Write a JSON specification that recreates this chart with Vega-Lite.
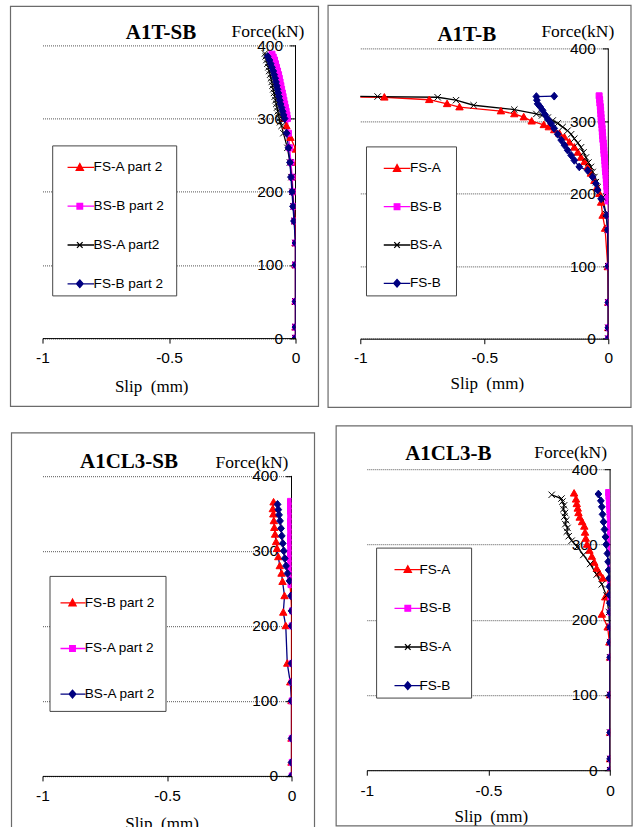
{
"$schema": "https://vega.github.io/schema/vega-lite/v6.json",
"padding": {"left": 9.5, "top": 4.4, "right": 0, "bottom": 0},
"background": "white",
"config": {
 "view": {"stroke": null},
 "axis": {"labelFont": "Liberation Sans", "labelFontSize": 15.5, "labelColor": "#000", "domainColor": "#000", "tickColor": "#000", "gridColor": "#555", "gridDash": [1, 1], "gridWidth": 1, "titleFont": "Liberation Serif", "titleFontWeight": "normal", "titleFontSize": 17.5, "titleColor": "#000", "labelOverlap": false, "labelFlush": false},
 "legend": {"fillColor": "white", "strokeColor": "#444", "symbolOpacity": 1, "symbolStrokeWidth": 1.3, "symbolSize": 1024, "labelFont": "Liberation Sans", "labelFontSize": 13.6, "labelColor": "#000", "labelLimit": 400, "titleColor": "white", "titleFontSize": 10, "titleOrient": "right"}
},
"datasets": {
 "p1": [
  {"s":"FS-A part 2","x":0,"f":0},{"s":"FS-A part 2","x":0,"f":15},{"s":"FS-A part 2","x":0,"f":50},{"s":"FS-A part 2","x":0,"f":100},{"s":"FS-A part 2","x":0,"f":130},{"s":"FS-A part 2","x":0,"f":160},{"s":"FS-A part 2","x":0.004,"f":180},{"s":"FS-A part 2","x":0.005,"f":200},{"s":"FS-A part 2","x":0.006,"f":220},{"s":"FS-A part 2","x":0.005,"f":240},{"s":"FS-A part 2","x":0.001,"f":258},{"s":"FS-A part 2","x":-0.02,"f":274},{"s":"FS-A part 2","x":-0.036,"f":290},{"s":"FS-A part 2","x":-0.045,"f":300},
  {"s":"BS-B part 2","x":0,"f":0},{"s":"BS-B part 2","x":0,"f":15},{"s":"BS-B part 2","x":0,"f":50},{"s":"BS-B part 2","x":0,"f":100},{"s":"BS-B part 2","x":0,"f":130},{"s":"BS-B part 2","x":-0.003,"f":160},{"s":"BS-B part 2","x":-0.006,"f":180},{"s":"BS-B part 2","x":-0.01,"f":200},{"s":"BS-B part 2","x":-0.013,"f":220},{"s":"BS-B part 2","x":-0.018,"f":240},{"s":"BS-B part 2","x":-0.023,"f":260},{"s":"BS-B part 2","x":-0.028,"f":280},{"s":"BS-B part 2","x":-0.032,"f":300},{"s":"BS-B part 2","x":-0.034,"f":305},{"s":"BS-B part 2","x":-0.037,"f":310},{"s":"BS-B part 2","x":-0.04,"f":315},{"s":"BS-B part 2","x":-0.043,"f":320},{"s":"BS-B part 2","x":-0.046,"f":325},{"s":"BS-B part 2","x":-0.049,"f":330},{"s":"BS-B part 2","x":-0.052,"f":335},{"s":"BS-B part 2","x":-0.055,"f":340},{"s":"BS-B part 2","x":-0.058,"f":345},{"s":"BS-B part 2","x":-0.061,"f":350},{"s":"BS-B part 2","x":-0.064,"f":355},{"s":"BS-B part 2","x":-0.067,"f":360},{"s":"BS-B part 2","x":-0.071,"f":365},{"s":"BS-B part 2","x":-0.075,"f":370},{"s":"BS-B part 2","x":-0.079,"f":375},{"s":"BS-B part 2","x":-0.083,"f":380},{"s":"BS-B part 2","x":-0.088,"f":384},{"s":"BS-B part 2","x":-0.093,"f":388},
  {"s":"BS-A part2","x":0,"f":0},{"s":"BS-A part2","x":0,"f":15},{"s":"BS-A part2","x":0,"f":50},{"s":"BS-A part2","x":0,"f":100},{"s":"BS-A part2","x":0,"f":130},{"s":"BS-A part2","x":-0.004,"f":160},{"s":"BS-A part2","x":-0.008,"f":180},{"s":"BS-A part2","x":-0.012,"f":200},{"s":"BS-A part2","x":-0.016,"f":220},{"s":"BS-A part2","x":-0.022,"f":240},{"s":"BS-A part2","x":-0.032,"f":260},{"s":"BS-A part2","x":-0.048,"f":280},{"s":"BS-A part2","x":-0.055,"f":290},{"s":"BS-A part2","x":-0.061,"f":295},{"s":"BS-A part2","x":-0.064,"f":300},{"s":"BS-A part2","x":-0.067,"f":305},{"s":"BS-A part2","x":-0.07,"f":310},{"s":"BS-A part2","x":-0.073,"f":315},{"s":"BS-A part2","x":-0.076,"f":320},{"s":"BS-A part2","x":-0.079,"f":325},{"s":"BS-A part2","x":-0.082,"f":330},{"s":"BS-A part2","x":-0.085,"f":335},{"s":"BS-A part2","x":-0.088,"f":340},{"s":"BS-A part2","x":-0.091,"f":345},{"s":"BS-A part2","x":-0.094,"f":350},{"s":"BS-A part2","x":-0.097,"f":355},{"s":"BS-A part2","x":-0.1,"f":360},{"s":"BS-A part2","x":-0.104,"f":365},{"s":"BS-A part2","x":-0.107,"f":370},{"s":"BS-A part2","x":-0.111,"f":375},{"s":"BS-A part2","x":-0.115,"f":380},{"s":"BS-A part2","x":-0.118,"f":385},{"s":"BS-A part2","x":-0.121,"f":389},
  {"s":"FS-B part 2","x":0,"f":0},{"s":"FS-B part 2","x":0,"f":15},{"s":"FS-B part 2","x":0,"f":50},{"s":"FS-B part 2","x":0,"f":100},{"s":"FS-B part 2","x":0,"f":130},{"s":"FS-B part 2","x":-0.006,"f":160},{"s":"FS-B part 2","x":-0.01,"f":180},{"s":"FS-B part 2","x":-0.014,"f":200},{"s":"FS-B part 2","x":-0.018,"f":220},{"s":"FS-B part 2","x":-0.022,"f":240},{"s":"FS-B part 2","x":-0.028,"f":260},{"s":"FS-B part 2","x":-0.035,"f":280},{"s":"FS-B part 2","x":-0.043,"f":300},{"s":"FS-B part 2","x":-0.047,"f":305},{"s":"FS-B part 2","x":-0.051,"f":310},{"s":"FS-B part 2","x":-0.055,"f":315},{"s":"FS-B part 2","x":-0.059,"f":320},{"s":"FS-B part 2","x":-0.062,"f":325},{"s":"FS-B part 2","x":-0.065,"f":330},{"s":"FS-B part 2","x":-0.068,"f":335},{"s":"FS-B part 2","x":-0.071,"f":340},{"s":"FS-B part 2","x":-0.074,"f":345},{"s":"FS-B part 2","x":-0.077,"f":350},{"s":"FS-B part 2","x":-0.08,"f":355},{"s":"FS-B part 2","x":-0.084,"f":360},{"s":"FS-B part 2","x":-0.088,"f":365},{"s":"FS-B part 2","x":-0.093,"f":370},{"s":"FS-B part 2","x":-0.098,"f":375},{"s":"FS-B part 2","x":-0.103,"f":380},{"s":"FS-B part 2","x":-0.11,"f":385}
 ],
 "p2": [
  {"s":"FS-A","x":0,"f":0},{"s":"FS-A","x":0,"f":15},{"s":"FS-A","x":0,"f":50},{"s":"FS-A","x":-0.002,"f":99},{"s":"FS-A","x":-0.013,"f":152},{"s":"FS-A","x":-0.023,"f":170},{"s":"FS-A","x":-0.029,"f":188},{"s":"FS-A","x":-0.036,"f":200},{"s":"FS-A","x":-0.045,"f":209},{"s":"FS-A","x":-0.056,"f":218},{"s":"FS-A","x":-0.07,"f":228},{"s":"FS-A","x":-0.083,"f":237},{"s":"FS-A","x":-0.096,"f":244},{"s":"FS-A","x":-0.11,"f":250},{"s":"FS-A","x":-0.123,"f":257},{"s":"FS-A","x":-0.137,"f":264},{"s":"FS-A","x":-0.157,"f":271},{"s":"FS-A","x":-0.177,"f":278},{"s":"FS-A","x":-0.197,"f":283},{"s":"FS-A","x":-0.218,"f":288},{"s":"FS-A","x":-0.24,"f":292},{"s":"FS-A","x":-0.26,"f":295},{"s":"FS-A","x":-0.309,"f":300},{"s":"FS-A","x":-0.341,"f":305.7},{"s":"FS-A","x":-0.379,"f":310},{"s":"FS-A","x":-0.433,"f":314},{"s":"FS-A","x":-0.6,"f":319.5},{"s":"FS-A","x":-0.65,"f":324},{"s":"FS-A","x":-0.722,"f":329.6},{"s":"FS-A","x":-0.903,"f":333},{"s":"FS-A","x":-1.3,"f":334},
  {"s":"BS-B","x":0.001,"f":0},{"s":"BS-B","x":0.001,"f":15},{"s":"BS-B","x":0.001,"f":50},{"s":"BS-B","x":0.001,"f":100},{"s":"BS-B","x":0.001,"f":150},{"s":"BS-B","x":0.001,"f":170},{"s":"BS-B","x":-0.001,"f":190},{"s":"BS-B","x":-0.002,"f":195},{"s":"BS-B","x":-0.003,"f":200},{"s":"BS-B","x":-0.005,"f":205},{"s":"BS-B","x":-0.006,"f":210},{"s":"BS-B","x":-0.007,"f":215},{"s":"BS-B","x":-0.008,"f":220},{"s":"BS-B","x":-0.009,"f":225},{"s":"BS-B","x":-0.011,"f":230},{"s":"BS-B","x":-0.012,"f":235},{"s":"BS-B","x":-0.013,"f":240},{"s":"BS-B","x":-0.014,"f":245},{"s":"BS-B","x":-0.015,"f":250},{"s":"BS-B","x":-0.017,"f":255},{"s":"BS-B","x":-0.018,"f":260},{"s":"BS-B","x":-0.019,"f":265},{"s":"BS-B","x":-0.02,"f":270},{"s":"BS-B","x":-0.022,"f":275},{"s":"BS-B","x":-0.023,"f":280},{"s":"BS-B","x":-0.024,"f":285},{"s":"BS-B","x":-0.025,"f":290},{"s":"BS-B","x":-0.026,"f":295},{"s":"BS-B","x":-0.028,"f":300},{"s":"BS-B","x":-0.029,"f":305},{"s":"BS-B","x":-0.03,"f":310},{"s":"BS-B","x":-0.031,"f":315},{"s":"BS-B","x":-0.032,"f":320},{"s":"BS-B","x":-0.034,"f":325},{"s":"BS-B","x":-0.035,"f":330},{"s":"BS-B","x":-0.037,"f":335},
  {"s":"BS-A","x":0,"f":0},{"s":"BS-A","x":0,"f":15},{"s":"BS-A","x":0,"f":50},{"s":"BS-A","x":0,"f":100},{"s":"BS-A","x":-0.003,"f":150},{"s":"BS-A","x":-0.009,"f":172},{"s":"BS-A","x":-0.023,"f":195},{"s":"BS-A","x":-0.043,"f":209},{"s":"BS-A","x":-0.05,"f":216},{"s":"BS-A","x":-0.056,"f":223},{"s":"BS-A","x":-0.063,"f":230},{"s":"BS-A","x":-0.07,"f":237},{"s":"BS-A","x":-0.08,"f":243},{"s":"BS-A","x":-0.09,"f":250},{"s":"BS-A","x":-0.1,"f":257},{"s":"BS-A","x":-0.11,"f":264},{"s":"BS-A","x":-0.123,"f":270},{"s":"BS-A","x":-0.137,"f":276},{"s":"BS-A","x":-0.15,"f":282},{"s":"BS-A","x":-0.164,"f":287},{"s":"BS-A","x":-0.184,"f":292},{"s":"BS-A","x":-0.204,"f":297},{"s":"BS-A","x":-0.224,"f":301},{"s":"BS-A","x":-0.244,"f":305},{"s":"BS-A","x":-0.267,"f":308},{"s":"BS-A","x":-0.29,"f":310},{"s":"BS-A","x":-0.379,"f":316},{"s":"BS-A","x":-0.543,"f":322},{"s":"BS-A","x":-0.614,"f":329},{"s":"BS-A","x":-0.688,"f":333},{"s":"BS-A","x":-0.93,"f":334},{"s":"BS-A","x":-1.3,"f":335},
  {"s":"FS-B","x":0,"f":0},{"s":"FS-B","x":0,"f":15},{"s":"FS-B","x":0,"f":50},{"s":"FS-B","x":0,"f":100},{"s":"FS-B","x":-0.002,"f":150},{"s":"FS-B","x":-0.007,"f":170},{"s":"FS-B","x":-0.029,"f":193},{"s":"FS-B","x":-0.043,"f":205},{"s":"FS-B","x":-0.05,"f":214},{"s":"FS-B","x":-0.063,"f":223},{"s":"FS-B","x":-0.083,"f":232},{"s":"FS-B","x":-0.117,"f":237},{"s":"FS-B","x":-0.137,"f":246},{"s":"FS-B","x":-0.15,"f":253},{"s":"FS-B","x":-0.164,"f":260},{"s":"FS-B","x":-0.177,"f":267},{"s":"FS-B","x":-0.19,"f":274},{"s":"FS-B","x":-0.204,"f":282},{"s":"FS-B","x":-0.218,"f":290},{"s":"FS-B","x":-0.231,"f":297},{"s":"FS-B","x":-0.244,"f":303},{"s":"FS-B","x":-0.255,"f":309},{"s":"FS-B","x":-0.265,"f":315},{"s":"FS-B","x":-0.275,"f":320},{"s":"FS-B","x":-0.285,"f":324},{"s":"FS-B","x":-0.288,"f":329},{"s":"FS-B","x":-0.29,"f":334},{"s":"FS-B","x":-0.218,"f":334.5}
 ],
 "p3": [
  {"s":"FS-B part 2","x":0,"f":0},{"s":"FS-B part 2","x":0,"f":18},{"s":"FS-B part 2","x":0,"f":50},{"s":"FS-B part 2","x":0,"f":100},{"s":"FS-B part 2","x":-0.005,"f":125},{"s":"FS-B part 2","x":-0.017,"f":150},{"s":"FS-B part 2","x":-0.023,"f":200},{"s":"FS-B part 2","x":-0.033,"f":218},{"s":"FS-B part 2","x":-0.028,"f":240},{"s":"FS-B part 2","x":-0.036,"f":259},{"s":"FS-B part 2","x":-0.04,"f":270},{"s":"FS-B part 2","x":-0.047,"f":280},{"s":"FS-B part 2","x":-0.053,"f":292},{"s":"FS-B part 2","x":-0.058,"f":303},{"s":"FS-B part 2","x":-0.062,"f":312},{"s":"FS-B part 2","x":-0.066,"f":322},{"s":"FS-B part 2","x":-0.069,"f":331},{"s":"FS-B part 2","x":-0.071,"f":340},{"s":"FS-B part 2","x":-0.073,"f":349},{"s":"FS-B part 2","x":-0.075,"f":356},{"s":"FS-B part 2","x":-0.072,"f":365},
  {"s":"FS-A part 2","x":0.003,"f":0},{"s":"FS-A part 2","x":0.003,"f":18},{"s":"FS-A part 2","x":0.003,"f":50},{"s":"FS-A part 2","x":0.003,"f":100},{"s":"FS-A part 2","x":0.003,"f":125},{"s":"FS-A part 2","x":0.003,"f":150},{"s":"FS-A part 2","x":0.003,"f":200},{"s":"FS-A part 2","x":0.004,"f":220},{"s":"FS-A part 2","x":0.004,"f":240},{"s":"FS-A part 2","x":-0.002,"f":255},{"s":"FS-A part 2","x":-0.003,"f":262},{"s":"FS-A part 2","x":-0.003,"f":269},{"s":"FS-A part 2","x":-0.004,"f":276},{"s":"FS-A part 2","x":-0.003,"f":283},{"s":"FS-A part 2","x":-0.004,"f":290},{"s":"FS-A part 2","x":-0.004,"f":297},{"s":"FS-A part 2","x":-0.003,"f":304},{"s":"FS-A part 2","x":-0.004,"f":311},{"s":"FS-A part 2","x":-0.004,"f":318},{"s":"FS-A part 2","x":-0.003,"f":325},{"s":"FS-A part 2","x":-0.004,"f":332},{"s":"FS-A part 2","x":-0.004,"f":339},{"s":"FS-A part 2","x":-0.003,"f":346},{"s":"FS-A part 2","x":-0.004,"f":353},{"s":"FS-A part 2","x":-0.004,"f":360},{"s":"FS-A part 2","x":-0.004,"f":366},
  {"s":"BS-A part 2","x":0,"f":0},{"s":"BS-A part 2","x":0,"f":18},{"s":"BS-A part 2","x":0,"f":50},{"s":"BS-A part 2","x":0,"f":100},{"s":"BS-A part 2","x":0,"f":125},{"s":"BS-A part 2","x":0,"f":150},{"s":"BS-A part 2","x":0,"f":200},{"s":"BS-A part 2","x":0,"f":220},{"s":"BS-A part 2","x":-0.002,"f":240},{"s":"BS-A part 2","x":-0.008,"f":260},{"s":"BS-A part 2","x":-0.016,"f":270},{"s":"BS-A part 2","x":-0.022,"f":280},{"s":"BS-A part 2","x":-0.027,"f":290},{"s":"BS-A part 2","x":-0.031,"f":300},{"s":"BS-A part 2","x":-0.035,"f":310},{"s":"BS-A part 2","x":-0.039,"f":320},{"s":"BS-A part 2","x":-0.042,"f":330},{"s":"BS-A part 2","x":-0.046,"f":340},{"s":"BS-A part 2","x":-0.05,"f":348},{"s":"BS-A part 2","x":-0.053,"f":355},{"s":"BS-A part 2","x":-0.056,"f":362}
 ],
 "p4": [
  {"s":"FS-A","x":0,"f":0},{"s":"FS-A","x":0,"f":15},{"s":"FS-A","x":0,"f":50},{"s":"FS-A","x":0,"f":100},{"s":"FS-A","x":0,"f":150},{"s":"FS-A","x":-0.003,"f":170},{"s":"FS-A","x":-0.01,"f":190},{"s":"FS-A","x":-0.034,"f":207},{"s":"FS-A","x":-0.02,"f":230},{"s":"FS-A","x":0.006,"f":249},{"s":"FS-A","x":-0.03,"f":255},{"s":"FS-A","x":-0.045,"f":262},{"s":"FS-A","x":-0.055,"f":268},{"s":"FS-A","x":-0.065,"f":276},{"s":"FS-A","x":-0.075,"f":284},{"s":"FS-A","x":-0.085,"f":292},{"s":"FS-A","x":-0.095,"f":300},{"s":"FS-A","x":-0.1,"f":308},{"s":"FS-A","x":-0.103,"f":316},{"s":"FS-A","x":-0.106,"f":324},{"s":"FS-A","x":-0.115,"f":330},{"s":"FS-A","x":-0.125,"f":336},{"s":"FS-A","x":-0.13,"f":342},{"s":"FS-A","x":-0.133,"f":348},{"s":"FS-A","x":-0.137,"f":354},{"s":"FS-A","x":-0.14,"f":360},{"s":"FS-A","x":-0.148,"f":368},
  {"s":"BS-B","x":0.003,"f":0},{"s":"BS-B","x":0.003,"f":15},{"s":"BS-B","x":0.003,"f":50},{"s":"BS-B","x":0.003,"f":100},{"s":"BS-B","x":0.003,"f":150},{"s":"BS-B","x":0.003,"f":170},{"s":"BS-B","x":0.003,"f":190},{"s":"BS-B","x":0.003,"f":210},{"s":"BS-B","x":0.003,"f":230},{"s":"BS-B","x":0.003,"f":250},{"s":"BS-B","x":0.003,"f":270},{"s":"BS-B","x":0.003,"f":290},{"s":"BS-B","x":0.004,"f":298},{"s":"BS-B","x":0.003,"f":304},{"s":"BS-B","x":0.003,"f":310},{"s":"BS-B","x":0.002,"f":316},{"s":"BS-B","x":0.002,"f":322},{"s":"BS-B","x":0.001,"f":328},{"s":"BS-B","x":0.001,"f":334},{"s":"BS-B","x":0,"f":340},{"s":"BS-B","x":-0.001,"f":346},{"s":"BS-B","x":-0.002,"f":352},{"s":"BS-B","x":-0.003,"f":358},{"s":"BS-B","x":-0.005,"f":364},{"s":"BS-B","x":-0.006,"f":369},
  {"s":"BS-A","x":0,"f":0},{"s":"BS-A","x":0,"f":15},{"s":"BS-A","x":0,"f":50},{"s":"BS-A","x":0,"f":100},{"s":"BS-A","x":0,"f":150},{"s":"BS-A","x":0,"f":170},{"s":"BS-A","x":-0.002,"f":190},{"s":"BS-A","x":-0.005,"f":210},{"s":"BS-A","x":-0.015,"f":232},{"s":"BS-A","x":-0.034,"f":247},{"s":"BS-A","x":-0.055,"f":260},{"s":"BS-A","x":-0.082,"f":274},{"s":"BS-A","x":-0.11,"f":286},{"s":"BS-A","x":-0.135,"f":297},{"s":"BS-A","x":-0.158,"f":305},{"s":"BS-A","x":-0.17,"f":311},{"s":"BS-A","x":-0.178,"f":317},{"s":"BS-A","x":-0.175,"f":322},{"s":"BS-A","x":-0.184,"f":327},{"s":"BS-A","x":-0.18,"f":332},{"s":"BS-A","x":-0.188,"f":337},{"s":"BS-A","x":-0.185,"f":342},{"s":"BS-A","x":-0.192,"f":347},{"s":"BS-A","x":-0.189,"f":352},{"s":"BS-A","x":-0.196,"f":357},{"s":"BS-A","x":-0.2,"f":361},{"s":"BS-A","x":-0.24,"f":366},
  {"s":"FS-B","x":0,"f":0},{"s":"FS-B","x":0,"f":15},{"s":"FS-B","x":0,"f":50},{"s":"FS-B","x":0,"f":100},{"s":"FS-B","x":0,"f":150},{"s":"FS-B","x":0,"f":170},{"s":"FS-B","x":0,"f":190},{"s":"FS-B","x":0,"f":210},{"s":"FS-B","x":-0.001,"f":222},{"s":"FS-B","x":-0.002,"f":233},{"s":"FS-B","x":-0.003,"f":244},{"s":"FS-B","x":-0.004,"f":255},{"s":"FS-B","x":-0.006,"f":266},{"s":"FS-B","x":-0.008,"f":277},{"s":"FS-B","x":-0.011,"f":288},{"s":"FS-B","x":-0.016,"f":300},{"s":"FS-B","x":-0.019,"f":310},{"s":"FS-B","x":-0.023,"f":320},{"s":"FS-B","x":-0.027,"f":330},{"s":"FS-B","x":-0.031,"f":340},{"s":"FS-B","x":-0.034,"f":350},{"s":"FS-B","x":-0.038,"f":358},{"s":"FS-B","x":-0.048,"f":367}
 ]
},
"spacing": 16.8,
"vconcat": [
 {"spacing": 7.8, "hconcat": [
  {
   "width": 253, "height": 292.7,
   "resolve": {"scale": {"fill": "independent", "stroke": "independent", "shape": "independent"}, "axis": {"x": "independent"}},
   "layer": [
    {"data": {"values": [{}]}, "mark": {"type": "rect", "filled": false, "color": "#6b6b6b", "strokeWidth": 1.2},
     "encoding": {"x": {"datum": -1.1265, "type": "quantitative", "axis": {"orient": "top", "domain": false, "ticks": false, "labels": false, "grid": false, "title": "A1T-SB", "titleFont": "Liberation Serif", "titleFontWeight": "bold", "titleFontSize": 21, "titleAlign": "center", "titleBaseline": "alphabetic", "titleX": 118, "titleY": -7}},
      "x2": {"datum": 0.0909}, "y": {"datum": 453.3, "type": "quantitative"}, "y2": {"datum": -93.3}}},
    {"data": {"values": [{}]}, "mark": {"type": "rule", "color": "#000", "strokeWidth": 1},
     "encoding": {"x": {"datum": 0, "type": "quantitative", "axis": null}, "y": {"datum": 0, "type": "quantitative"}, "y2": {"datum": 400}}},
    {"data": {"name": "p1"}, "mark": {"type": "line", "clip": true, "strokeWidth": 1.3},
     "encoding": {
      "x": {"field": "x", "type": "quantitative", "scale": {"domain": [-1, 0], "nice": false, "zero": false},
            "axis": {"values": [-1, -0.5, 0], "labelExpr": "'' + datum.value", "grid": false, "tickSize": 5, "labelPadding": 7, "title": "Slip\u00a0 (mm)", "titleFontSize": 17, "titleAlign": "center", "titleBaseline": "alphabetic", "titleX": 108.7, "titleY": 53}},
      "y": {"field": "f", "type": "quantitative", "scale": {"domain": [0, 400], "nice": false},
            "axis": {"orient": "left", "offset": -253, "domain": false, "values": [0, 50, 100, 150, 200, 250, 300, 350, 400], "grid": true, "tickSize": 6, "labelPadding": 7, "title": "Force(kN)", "titleAngle": 0, "titleAlign": "center", "titleBaseline": "alphabetic", "titleX": -28, "titleY": -9}},
      "color": {"field": "s", "type": "nominal", "scale": {"domain": ["FS-A part 2", "BS-B part 2", "BS-A part2", "FS-B part 2"], "range": ["#ff0000", "#ff00ff", "#000000", "#000080"]}, "legend": null},
      "order": {"field": "f", "type": "quantitative"}}},
    {"data": {"name": "p1"}, "mark": {"type": "point", "clip": true, "filled": true, "size": 50, "strokeWidth": 1, "opacity": 1},
     "encoding": {
      "x": {"field": "x", "type": "quantitative", "axis": null}, "y": {"field": "f", "type": "quantitative"},
      "fill": {"field": "s", "type": "nominal", "scale": {"domain": ["FS-A part 2", "BS-B part 2", "BS-A part2", "FS-B part 2"], "range": ["#ff0000", "#ff00ff", "#000000", "#000080"]}, "legend": null},
      "stroke": {"field": "s", "type": "nominal", "scale": {"domain": ["FS-A part 2", "BS-B part 2", "BS-A part2", "FS-B part 2"], "range": ["#ff0000", "#ff00ff", "#000000", "#000080"]}, "legend": null},
      "shape": {"field": "s", "type": "nominal", "scale": {"domain": ["FS-A part 2", "BS-B part 2", "BS-A part2", "FS-B part 2"], "range": ["M0,-1.05L1.05,0.8L-1.05,0.8Z", "M-0.85,-0.85H0.85V0.85H-0.85Z", "M-0.9,-0.9L0.9,0.9M-0.9,0.9L0.9,-0.9", "M0,-1.1L0.95,0L0,1.1L-0.95,0Z"]}, "legend": null}}},
    {"data": {"name": "p1"}, "mark": {"type": "point", "clip": true, "filled": true, "opacity": 0},
     "encoding": {
      "x": {"field": "x", "type": "quantitative", "axis": null}, "y": {"field": "f", "type": "quantitative"},
      "fill": {"field": "s", "type": "nominal", "scale": {"domain": ["FS-A part 2", "BS-B part 2", "BS-A part2", "FS-B part 2"], "range": ["#ff0000", "#ff00ff", "#000000", "#000080"]},
               "legend": {"orient": "none", "legendX": 9.7, "legendY": 100, "title": ".", "titlePadding": 4, "padding": 5, "rowPadding": 14.8, "labelOffset": 2.4}},
      "stroke": {"field": "s", "type": "nominal", "scale": {"domain": ["FS-A part 2", "BS-B part 2", "BS-A part2", "FS-B part 2"], "range": ["#ff0000", "#ff00ff", "#000000", "#000080"]},
               "legend": {"orient": "none", "legendX": 9.7, "legendY": 100, "title": ".", "titlePadding": 4, "padding": 5, "rowPadding": 14.8, "labelOffset": 2.4}},
      "shape": {"field": "s", "type": "nominal", "scale": {"domain": ["FS-A part 2", "BS-B part 2", "BS-A part2", "FS-B part 2"], "range": ["M-0.415,0H1.25M0.35,-0.24L0.575,0.18L0.125,0.18Z", "M-0.415,0H1.25M0.175,-0.18H0.525V0.18H0.175Z", "M-0.415,0H1.25M0.175,-0.18L0.525,0.18M0.175,0.18L0.525,-0.18", "M-0.415,0H1.25M0.35,-0.24L0.56,0L0.35,0.24L0.14,0Z"]},
               "legend": {"orient": "none", "legendX": 9.7, "legendY": 100, "title": ".", "titlePadding": 4, "padding": 5, "rowPadding": 14.8, "labelOffset": 2.4}}}}
   ]
  },
  {
   "width": 248, "height": 293.3,
   "resolve": {"scale": {"fill": "independent", "stroke": "independent", "shape": "independent"}, "axis": {"x": "independent"}},
   "layer": [
    {"data": {"values": [{}]}, "mark": {"type": "rect", "filled": false, "color": "#6b6b6b", "strokeWidth": 1.2},
     "encoding": {"x": {"datum": -1.13, "type": "quantitative", "axis": {"orient": "top", "domain": false, "ticks": false, "labels": false, "grid": false, "title": "A1T-B", "titleFont": "Liberation Serif", "titleFontWeight": "bold", "titleFontSize": 21, "titleAlign": "center", "titleBaseline": "alphabetic", "titleX": 106, "titleY": -5}},
      "x2": {"datum": 0.0915}, "y": {"datum": 459.7, "type": "quantitative"}, "y2": {"datum": -94.8}}},
    {"data": {"values": [{}]}, "mark": {"type": "rule", "color": "#000", "strokeWidth": 1},
     "encoding": {"x": {"datum": 0, "type": "quantitative", "axis": null}, "y": {"datum": 0, "type": "quantitative"}, "y2": {"datum": 400}}},
    {"data": {"name": "p2"}, "mark": {"type": "line", "clip": true, "strokeWidth": 1.3},
     "encoding": {
      "x": {"field": "x", "type": "quantitative", "scale": {"domain": [-1, 0], "nice": false, "zero": false},
            "axis": {"values": [-1, -0.5, 0], "labelExpr": "'' + datum.value", "grid": false, "tickSize": 5, "labelPadding": 7, "title": "Slip\u00a0 (mm)", "titleFontSize": 17, "titleAlign": "center", "titleBaseline": "alphabetic", "titleX": 126.5, "titleY": 50}},
      "y": {"field": "f", "type": "quantitative", "scale": {"domain": [0, 404.55], "nice": false},
            "axis": {"orient": "left", "offset": -248, "domain": false, "values": [0, 50, 100, 150, 200, 250, 300, 350, 400], "grid": true, "tickSize": 6, "labelPadding": 7, "title": "Force(kN)", "titleAngle": 0, "titleAlign": "center", "titleBaseline": "alphabetic", "titleX": -31, "titleY": -9}},
      "color": {"field": "s", "type": "nominal", "scale": {"domain": ["FS-A", "BS-B", "BS-A", "FS-B"], "range": ["#ff0000", "#ff00ff", "#000000", "#000080"]}, "legend": null},
      "order": {"field": "f", "type": "quantitative"}}},
    {"data": {"name": "p2"}, "mark": {"type": "point", "clip": true, "filled": true, "size": 50, "strokeWidth": 1, "opacity": 1},
     "encoding": {
      "x": {"field": "x", "type": "quantitative", "axis": null}, "y": {"field": "f", "type": "quantitative"},
      "fill": {"field": "s", "type": "nominal", "scale": {"domain": ["FS-A", "BS-B", "BS-A", "FS-B"], "range": ["#ff0000", "#ff00ff", "#000000", "#000080"]}, "legend": null},
      "stroke": {"field": "s", "type": "nominal", "scale": {"domain": ["FS-A", "BS-B", "BS-A", "FS-B"], "range": ["#ff0000", "#ff00ff", "#000000", "#000080"]}, "legend": null},
      "shape": {"field": "s", "type": "nominal", "scale": {"domain": ["FS-A", "BS-B", "BS-A", "FS-B"], "range": ["M0,-1.05L1.05,0.8L-1.05,0.8Z", "M-0.85,-0.85H0.85V0.85H-0.85Z", "M-0.9,-0.9L0.9,0.9M-0.9,0.9L0.9,-0.9", "M0,-1.1L0.95,0L0,1.1L-0.95,0Z"]}, "legend": null}}},
    {"data": {"name": "p2"}, "mark": {"type": "point", "clip": true, "filled": true, "opacity": 0},
     "encoding": {
      "x": {"field": "x", "type": "quantitative", "axis": null}, "y": {"field": "f", "type": "quantitative"},
      "fill": {"field": "s", "type": "nominal", "scale": {"domain": ["FS-A", "BS-B", "BS-A", "FS-B"], "range": ["#ff0000", "#ff00ff", "#000000", "#000080"]},
               "legend": {"orient": "none", "legendX": 5.7, "legendY": 101, "title": ".", "titlePadding": 6, "padding": 5, "rowPadding": 14.3, "labelOffset": 5}},
      "stroke": {"field": "s", "type": "nominal", "scale": {"domain": ["FS-A", "BS-B", "BS-A", "FS-B"], "range": ["#ff0000", "#ff00ff", "#000000", "#000080"]},
               "legend": {"orient": "none", "legendX": 5.7, "legendY": 101, "title": ".", "titlePadding": 6, "padding": 5, "rowPadding": 14.3, "labelOffset": 5}},
      "shape": {"field": "s", "type": "nominal", "scale": {"domain": ["FS-A", "BS-B", "BS-A", "FS-B"], "range": ["M-0.265,0H1.395M0.565,-0.24L0.79,0.18L0.34,0.18Z", "M-0.265,0H1.395M0.39,-0.18H0.74V0.18H0.39Z", "M-0.265,0H1.395M0.39,-0.18L0.74,0.18M0.39,0.18L0.74,-0.18", "M-0.265,0H1.395M0.565,-0.24L0.775,0L0.565,0.24L0.355,0Z"]},
               "legend": {"orient": "none", "legendX": 5.7, "legendY": 101, "title": ".", "titlePadding": 6, "padding": 5, "rowPadding": 14.3, "labelOffset": 5}}}}
   ]
  }
 ]},
 {"spacing": 19.3, "hconcat": [
  {
   "width": 249, "height": 306.7,
   "resolve": {"scale": {"fill": "independent", "stroke": "independent", "shape": "independent"}, "axis": {"x": "independent"}},
   "layer": [
    {"data": {"values": [{}]}, "mark": {"type": "rect", "filled": false, "color": "#6b6b6b", "strokeWidth": 1.2},
     "encoding": {"x": {"datum": -1.1245, "type": "quantitative", "axis": {"orient": "top", "domain": false, "ticks": false, "labels": false, "grid": false, "title": "A1CL3-SB", "titleFont": "Liberation Serif", "titleFontWeight": "bold", "titleFontSize": 21, "titleAlign": "center", "titleBaseline": "alphabetic", "titleX": 86, "titleY": -1.6}},
      "x2": {"datum": 0.0924}, "y": {"datum": 457.3, "type": "quantitative"}, "y2": {"datum": -80}}},
    {"data": {"values": [{}]}, "mark": {"type": "rule", "color": "#000", "strokeWidth": 1},
     "encoding": {"x": {"datum": 0, "type": "quantitative", "axis": null}, "y": {"datum": 0, "type": "quantitative"}, "y2": {"datum": 400}}},
    {"data": {"name": "p3"}, "mark": {"type": "line", "clip": true, "strokeWidth": 1.3},
     "encoding": {
      "x": {"field": "x", "type": "quantitative", "scale": {"domain": [-1, 0], "nice": false, "zero": false},
            "axis": {"values": [-1, -0.5, 0], "labelExpr": "'' + datum.value", "grid": false, "tickSize": 5, "labelPadding": 8, "title": "Slip\u00a0 (mm)", "titleFontSize": 17, "titleAlign": "center", "titleBaseline": "alphabetic", "titleX": 119, "titleY": 53}},
      "y": {"field": "f", "type": "quantitative", "scale": {"domain": [0, 408.93], "nice": false},
            "axis": {"orient": "left", "offset": -249, "domain": false, "values": [0, 50, 100, 150, 200, 250, 300, 350, 400], "grid": true, "tickSize": 6, "labelPadding": 8, "title": "Force(kN)", "titleAngle": 0, "titleAlign": "center", "titleBaseline": "alphabetic", "titleX": -40, "titleY": -1.6}},
      "color": {"field": "s", "type": "nominal", "scale": {"domain": ["FS-B part 2", "FS-A part 2", "BS-A part 2"], "range": ["#ff0000", "#ff00ff", "#000080"]}, "legend": null},
      "order": {"field": "f", "type": "quantitative"}}},
    {"data": {"name": "p3"}, "mark": {"type": "point", "clip": true, "filled": true, "size": 50, "strokeWidth": 1, "opacity": 1},
     "encoding": {
      "x": {"field": "x", "type": "quantitative", "axis": null}, "y": {"field": "f", "type": "quantitative"},
      "fill": {"field": "s", "type": "nominal", "scale": {"domain": ["FS-B part 2", "FS-A part 2", "BS-A part 2"], "range": ["#ff0000", "#ff00ff", "#000080"]}, "legend": null},
      "stroke": {"field": "s", "type": "nominal", "scale": {"domain": ["FS-B part 2", "FS-A part 2", "BS-A part 2"], "range": ["#ff0000", "#ff00ff", "#000080"]}, "legend": null},
      "shape": {"field": "s", "type": "nominal", "scale": {"domain": ["FS-B part 2", "FS-A part 2", "BS-A part 2"], "range": ["M0,-1.05L1.05,0.8L-1.05,0.8Z", "M-0.85,-0.85H0.85V0.85H-0.85Z", "M0,-1.1L0.95,0L0,1.1L-0.95,0Z"]}, "legend": null}}},
    {"data": {"name": "p3"}, "mark": {"type": "point", "clip": true, "filled": true, "opacity": 0},
     "encoding": {
      "x": {"field": "x", "type": "quantitative", "axis": null}, "y": {"field": "f", "type": "quantitative"},
      "fill": {"field": "s", "type": "nominal", "scale": {"domain": ["FS-B part 2", "FS-A part 2", "BS-A part 2"], "range": ["#ff0000", "#ff00ff", "#000080"]},
               "legend": {"orient": "none", "legendX": 7, "legendY": 106.7, "title": null, "padding": 10, "rowPadding": 21.6, "labelOffset": -8.7}},
      "stroke": {"field": "s", "type": "nominal", "scale": {"domain": ["FS-B part 2", "FS-A part 2", "BS-A part 2"], "range": ["#ff0000", "#ff00ff", "#000080"]},
               "legend": {"orient": "none", "legendX": 7, "legendY": 106.7, "title": null, "padding": 10, "rowPadding": 21.6, "labelOffset": -8.7}},
      "shape": {"field": "s", "type": "nominal", "scale": {"domain": ["FS-B part 2", "FS-A part 2", "BS-A part 2"], "range": ["M-1,0H0.565M-0.25,-0.24L-0.025,0.18L-0.475,0.18Z", "M-1,0H0.565M-0.425,-0.18H-0.075V0.18H-0.425Z", "M-1,0H0.565M-0.25,-0.24L-0.04,0L-0.25,0.24L-0.46,0Z"]},
               "legend": {"orient": "none", "legendX": 7, "legendY": 106.7, "title": null, "padding": 10, "rowPadding": 21.6, "labelOffset": -8.7}}}}
   ]
  },
  {
   "width": 243.3, "height": 301,
   "resolve": {"scale": {"fill": "independent", "stroke": "independent", "shape": "independent"}, "axis": {"x": "independent"}},
   "layer": [
    {"data": {"values": [{}]}, "mark": {"type": "rect", "filled": false, "color": "#6b6b6b", "strokeWidth": 1.2},
     "encoding": {"x": {"datum": -1.126, "type": "quantitative", "axis": {"orient": "top", "domain": false, "ticks": false, "labels": false, "grid": false, "title": "A1CL3-B", "titleFont": "Liberation Serif", "titleFontWeight": "bold", "titleFontSize": 21, "titleAlign": "center", "titleBaseline": "alphabetic", "titleX": 81, "titleY": -10}},
      "x2": {"datum": 0.0904}, "y": {"datum": 457.5, "type": "quantitative"}, "y2": {"datum": -74}}},
    {"data": {"values": [{}]}, "mark": {"type": "rule", "color": "#000", "strokeWidth": 1},
     "encoding": {"x": {"datum": 0, "type": "quantitative", "axis": null}, "y": {"datum": 0, "type": "quantitative"}, "y2": {"datum": 400}}},
    {"data": {"name": "p4"}, "mark": {"type": "line", "clip": true, "strokeWidth": 1.3},
     "encoding": {
      "x": {"field": "x", "type": "quantitative", "scale": {"domain": [-1, 0], "nice": false, "zero": false},
            "axis": {"values": [-1, -0.5, 0], "labelExpr": "'' + datum.value", "grid": false, "tickSize": 5, "labelPadding": 8, "title": "Slip\u00a0 (mm)", "titleFontSize": 17, "titleAlign": "center", "titleBaseline": "alphabetic", "titleX": 124, "titleY": 51}},
      "y": {"field": "f", "type": "quantitative", "scale": {"domain": [0, 400], "nice": false},
            "axis": {"orient": "left", "offset": -243.3, "domain": false, "values": [0, 50, 100, 150, 200, 250, 300, 350, 400], "grid": true, "tickSize": 6, "labelPadding": 7, "title": "Force(kN)", "titleAngle": 0, "titleAlign": "center", "titleBaseline": "alphabetic", "titleX": -40, "titleY": -12}},
      "color": {"field": "s", "type": "nominal", "scale": {"domain": ["FS-A", "BS-B", "BS-A", "FS-B"], "range": ["#ff0000", "#ff00ff", "#000000", "#000080"]}, "legend": null},
      "order": {"field": "f", "type": "quantitative"}}},
    {"data": {"name": "p4"}, "mark": {"type": "point", "clip": true, "filled": true, "size": 50, "strokeWidth": 1, "opacity": 1},
     "encoding": {
      "x": {"field": "x", "type": "quantitative", "axis": null}, "y": {"field": "f", "type": "quantitative"},
      "fill": {"field": "s", "type": "nominal", "scale": {"domain": ["FS-A", "BS-B", "BS-A", "FS-B"], "range": ["#ff0000", "#ff00ff", "#000000", "#000080"]}, "legend": null},
      "stroke": {"field": "s", "type": "nominal", "scale": {"domain": ["FS-A", "BS-B", "BS-A", "FS-B"], "range": ["#ff0000", "#ff00ff", "#000000", "#000080"]}, "legend": null},
      "shape": {"field": "s", "type": "nominal", "scale": {"domain": ["FS-A", "BS-B", "BS-A", "FS-B"], "range": ["M0,-1.05L1.05,0.8L-1.05,0.8Z", "M-0.85,-0.85H0.85V0.85H-0.85Z", "M-0.9,-0.9L0.9,0.9M-0.9,0.9L0.9,-0.9", "M0,-1.1L0.95,0L0,1.1L-0.95,0Z"]}, "legend": null}}},
    {"data": {"name": "p4"}, "mark": {"type": "point", "clip": true, "filled": true, "opacity": 0},
     "encoding": {
      "x": {"field": "x", "type": "quantitative", "axis": null}, "y": {"field": "f", "type": "quantitative"},
      "fill": {"field": "s", "type": "nominal", "scale": {"domain": ["FS-A", "BS-B", "BS-A", "FS-B"], "range": ["#ff0000", "#ff00ff", "#000000", "#000080"]},
               "legend": {"orient": "none", "legendX": 9.3, "legendY": 78.4, "title": ".", "titlePadding": 12, "padding": 5, "rowPadding": 14.7, "labelOffset": 4.3}},
      "stroke": {"field": "s", "type": "nominal", "scale": {"domain": ["FS-A", "BS-B", "BS-A", "FS-B"], "range": ["#ff0000", "#ff00ff", "#000000", "#000080"]},
               "legend": {"orient": "none", "legendX": 9.3, "legendY": 78.4, "title": ".", "titlePadding": 12, "padding": 5, "rowPadding": 14.7, "labelOffset": 4.3}},
      "shape": {"field": "s", "type": "nominal", "scale": {"domain": ["FS-A", "BS-B", "BS-A", "FS-B"], "range": ["M-0.225,0H1.435M0.605,-0.24L0.83,0.18L0.38,0.18Z", "M-0.225,0H1.435M0.43,-0.18H0.78V0.18H0.43Z", "M-0.225,0H1.435M0.43,-0.18L0.78,0.18M0.43,0.18L0.78,-0.18", "M-0.225,0H1.435M0.605,-0.24L0.815,0L0.605,0.24L0.395,0Z"]},
               "legend": {"orient": "none", "legendX": 9.3, "legendY": 78.4, "title": ".", "titlePadding": 12, "padding": 5, "rowPadding": 14.7, "labelOffset": 4.3}}}}
   ]
  }
 ]}
]
}
